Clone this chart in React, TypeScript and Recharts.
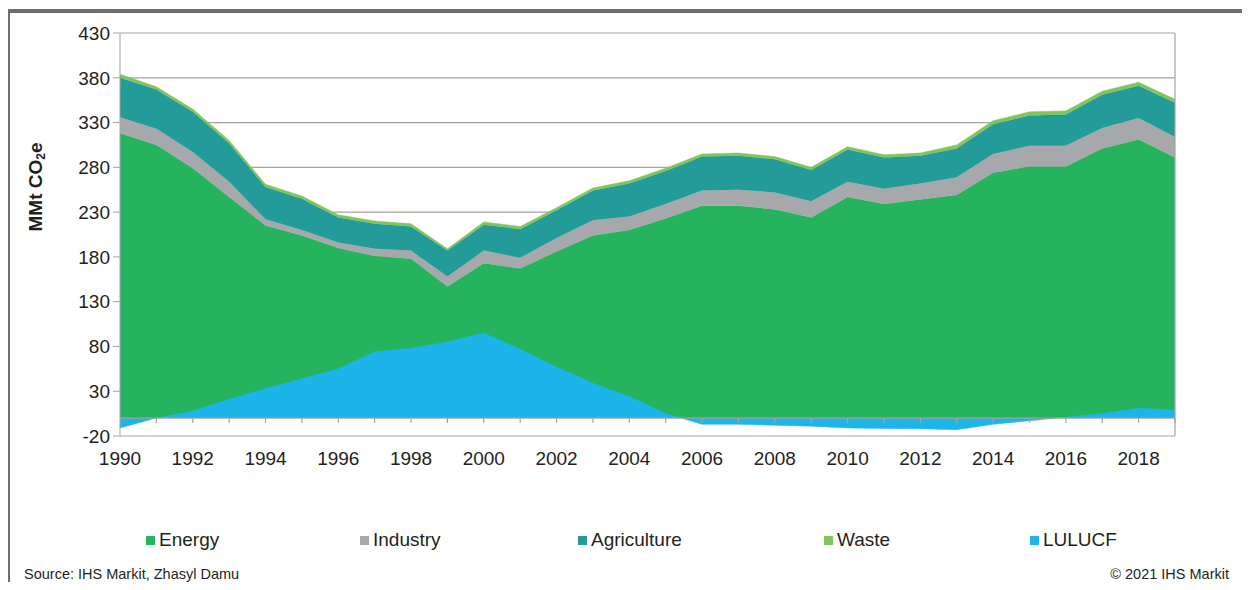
import { AreaChart, Area, XAxis, YAxis, CartesianGrid, ReferenceLine } from 'recharts';

// Kazakhstan GHG emissions by sector, MMt CO2e
const years = [
  1990, 1991, 1992, 1993, 1994, 1995, 1996, 1997, 1998, 1999, 2000, 2001, 2002, 2003, 2004,
  2005, 2006, 2007, 2008, 2009, 2010, 2011, 2012, 2013, 2014, 2015, 2016, 2017, 2018, 2019,
];
const energy = [318, 305, 279, 247, 215, 204, 190, 181, 178, 147, 173, 167, 186, 204, 210, 223, 237, 237, 233, 224, 247, 239, 244, 249, 274, 281, 281, 301, 311, 291];
const industry = [18, 18, 18, 17, 7, 6, 6, 8, 9, 11, 14, 12, 15, 17, 15, 16, 17, 18, 19, 18, 17, 17, 18, 20, 21, 23, 23, 23, 24, 23];
const agriculture = [44, 44, 45, 43, 36, 35, 28, 28, 27, 29, 29, 32, 31, 33, 37, 37, 38, 38, 37, 35, 36, 35, 31, 32, 33, 34, 35, 37, 36, 38];
const waste = [4, 3, 3, 3, 3, 3, 3, 3, 3, 2, 3, 3, 3, 3, 3, 3, 3, 3, 3, 3, 3, 3, 3, 4, 4, 4, 4, 4, 4, 4];
const lulucf = [-11, 0, 8, 21, 33, 44, 55, 74, 78, 85, 95, 77, 57, 39, 24, 5, -7, -7, -8, -9, -11, -11.5, -12, -13, -7, -3, 1, 5, 11, 9];

const yTicks = [-20, 30, 80, 130, 180, 230, 280, 330, 380, 430];
const xTicks = [1990, 1992, 1994, 1996, 1998, 2000, 2002, 2004, 2006, 2008, 2010, 2012, 2014, 2016, 2018];

const series = [
  { key: 'energy', name: 'Energy', color: '#25b35e' },
  { key: 'industry', name: 'Industry', color: '#a6a8ab' },
  { key: 'agriculture', name: 'Agriculture', color: '#239b98' },
  { key: 'waste', name: 'Waste', color: '#80c55a' },
  { key: 'lulucf', name: 'LULUCF', color: '#1db5e9' },
];
const legendX = [146, 360, 578, 824, 1030];

const data = years.map((year, i) => ({
  year,
  energy: energy[i],
  industry: industry[i],
  agriculture: agriculture[i],
  waste: waste[i],
  lulucf: lulucf[i],
}));

const FONT = 'Arial, "Liberation Sans", Helvetica, sans-serif';
const GRID = '#a3a3a3';
const TEXT = '#231f20';

export default function App() {
  return (
    <div style={{ position: 'relative', width: 1250, height: 590, margin: -8, background: '#fff', fontFamily: FONT, overflow: 'hidden' }}>
      {/* outer frame */}
      <div
        style={{
          position: 'absolute',
          left: 6,
          top: 9,
          width: 1243 - 6 - 3,
          height: 620,
          borderLeft: '4px solid #6d6e71',
          borderTop: '4px solid #6d6e71',
          borderRight: '3px solid #6d6e71',
        }}
      />
      <div style={{ position: 'absolute', left: 0, top: 0 }}>
        <AreaChart width={1250} height={480} data={data} margin={{ top: 33, right: 75, left: 60, bottom: 14 }}>
          <CartesianGrid vertical={false} stroke={GRID} strokeWidth={1.2} />
          <XAxis
            dataKey="year"
            type="number"
            domain={[1990, 2019]}
            ticks={xTicks}
            axisLine={false}
            tickLine={false}
            tickSize={0}
            tickMargin={16}
            height={30}
            tick={{ fill: TEXT, fontSize: 19, fontFamily: FONT }}
          />
          <YAxis
            type="number"
            domain={[-20, 430]}
            ticks={yTicks}
            interval={0}
            width={60}
            axisLine={{ stroke: GRID }}
            tickLine={{ stroke: GRID }}
            tickSize={7}
            tickMargin={3}
            tick={{ fill: TEXT, fontSize: 19, fontFamily: FONT }}
          />
          {series.slice(0, 4).map((s) => (
            <Area
              key={s.key}
              type="linear"
              dataKey={s.key}
              name={s.name}
              stackId="sectors"
              fill={s.color}
              fillOpacity={1}
              stroke={s.color}
              strokeWidth={0.5}
              isAnimationActive={false}
              dot={false}
              activeDot={false}
            />
          ))}
          <Area
            type="linear"
            dataKey="lulucf"
            name="LULUCF"
            fill="#1db5e9"
            fillOpacity={1}
            stroke="#1db5e9"
            strokeWidth={0.5}
            isAnimationActive={false}
            dot={false}
            activeDot={false}
          />
          <ReferenceLine y={0} stroke={GRID} strokeWidth={1.2} />
          <ReferenceLine x={2019} stroke={GRID} strokeWidth={1.2} />
          {years.slice(1).map((yr) => (
            <ReferenceLine
              key={yr}
              segment={[
                { x: yr, y: 0 },
                { x: yr, y: -5.5 },
              ]}
              stroke={GRID}
              strokeWidth={1.2}
            />
          ))}
        </AreaChart>
      </div>
      {/* y axis title */}
      <div
        style={{
          position: 'absolute',
          left: 36,
          top: 187,
          transform: 'translate(-50%, -50%) rotate(-90deg)',
          whiteSpace: 'nowrap',
          fontSize: 19,
          fontWeight: 'bold',
          color: TEXT,
        }}
      >
        MMt CO<sub style={{ fontSize: 12, verticalAlign: -3 }}>2</sub>e
      </div>
      {/* legend */}
      {series.map((s, i) => (
        <div
          key={s.key}
          style={{
            position: 'absolute',
            left: legendX[i],
            top: 529,
            display: 'flex',
            alignItems: 'center',
            fontSize: 19,
            color: TEXT,
            whiteSpace: 'nowrap',
          }}
        >
          <span style={{ display: 'inline-block', width: 9, height: 9, background: s.color, marginRight: 4 }} />
          {s.name}
        </div>
      ))}
      <div style={{ position: 'absolute', left: 24, top: 566, fontSize: 14.5, color: TEXT }}>Source: IHS Markit, Zhasyl Damu</div>
      <div style={{ position: 'absolute', right: 21, top: 566, fontSize: 14.5, color: TEXT }}>© 2021 IHS Markit</div>
    </div>
  );
}
